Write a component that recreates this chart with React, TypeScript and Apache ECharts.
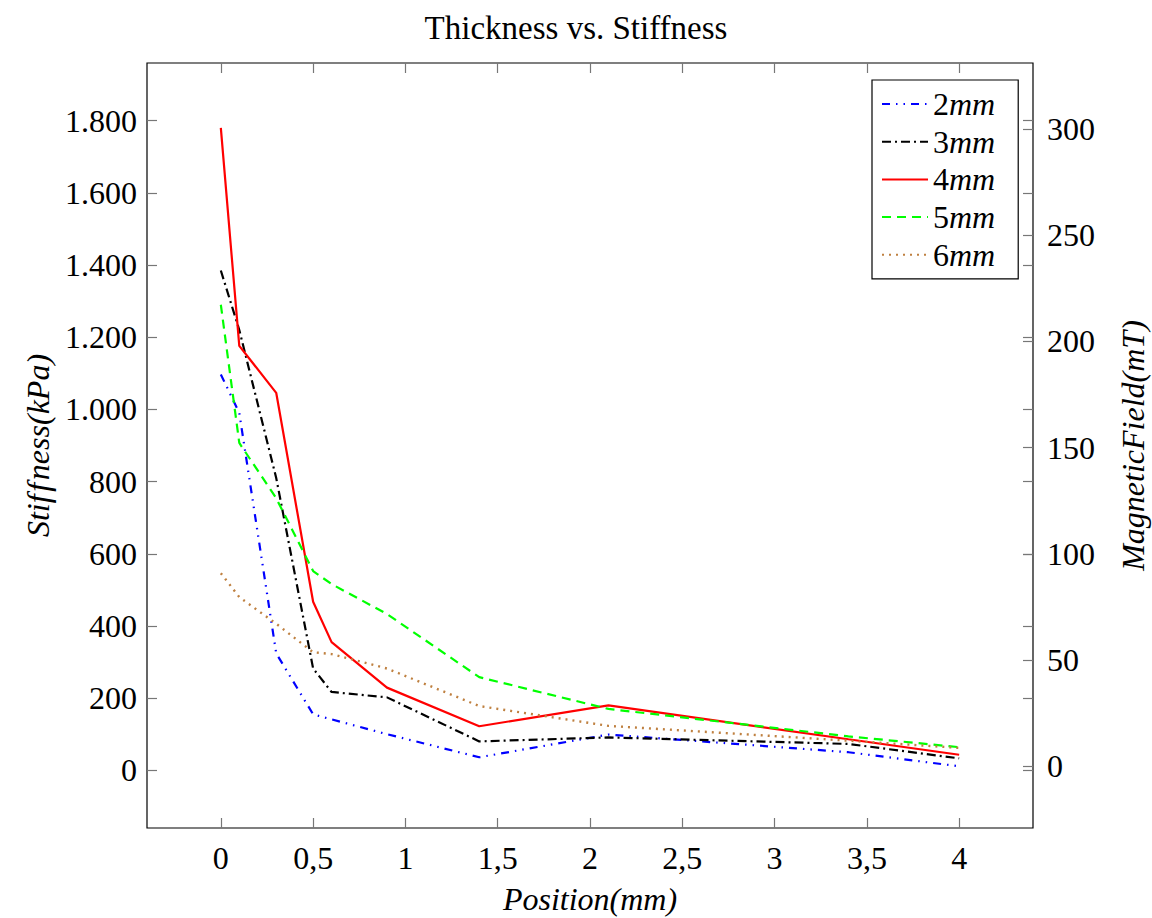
import React, { useEffect, useRef } from "react";
import * as echarts from "echarts";

const positions = [0, 0.1, 0.3, 0.5, 0.6, 0.9, 1.4, 2.1, 3.4, 4];
const stiff2mm = [1097, 990, 324, 155, 141, 100, 36, 99, 50, 11];
const stiff3mm = [1385, 1220, 810, 282, 217, 202, 80, 91, 73, 33];
const stiff4mm = [1780, 1176, 1046, 467, 355, 229, 122, 180, 86, 43];
const stiff5mm = [1290, 907, 754, 552, 516, 433, 258, 170, 94, 64];
const stiff6mm = [546, 480, 406, 327, 322, 282, 178, 123, 82, 62];

const seriesNames = ["2mm", "3mm", "4mm", "5mm", "6mm"];
const xTicks = [0, 0.5, 1, 1.5, 2, 2.5, 3, 3.5, 4];
const leftTicks = [0, 200, 400, 600, 800, 1000, 1200, 1400, 1600, 1800];
const rightTicks = [0, 50, 100, 150, 200, 250, 300];

const FONT = "'Liberation Serif', 'Times New Roman', serif";
const TICK_COLOR = "#777";

export default function App() {
  const ref = useRef<HTMLDivElement>(null);
  useEffect(() => {
    if (!ref.current) return;
    const chart = echarts.init(ref.current, undefined, { renderer: "svg" });
    const all = [stiff2mm, stiff3mm, stiff4mm, stiff5mm, stiff6mm];
    const colors = ["#0000ff", "#000000", "#ff0000", "#00ff00", "#bf8040"];
    const dashes: any[] = [[8, 6, 1.5, 6, 1.5, 6], [9, 4, 2, 4], "solid", [9, 6], [2, 5]];
    const widths = [2.2, 2.2, 2.2, 2.2, 2.4];
    const series = all.map((vals, i) => ({
      name: seriesNames[i],
      type: "line",
      xAxisIndex: 0,
      yAxisIndex: 0,
      symbol: "none",
      data: positions.map((x, j) => [x, vals[j]]),
      lineStyle: { color: colors[i], width: widths[i], type: dashes[i] },
      itemStyle: { color: colors[i] },
    }));
    const tickStyle = { show: true, inside: true, length: 10, lineStyle: { color: TICK_COLOR, width: 1.2 } };
    const option: any = {
      animation: false,
      title: {
        text: "Thickness vs. Stiffness",
        left: "center",
        top: 6,
        textStyle: { fontFamily: FONT, fontSize: 33, fontWeight: "normal", color: "#000" },
      },
      grid: {
        left: 147,
        top: 63,
        right: 119,
        bottom: 90,
        show: true,
        borderColor: "#000",
        borderWidth: 1.2,
        containLabel: false,
        outerBoundsMode: "none",
      },
      legend: {
        orient: "vertical",
        left: 872,
        top: 80,
        padding: [8, 23, 8, 9],
        itemGap: 5.7,
        itemWidth: 46,
        itemHeight: 14,
        borderColor: "#000",
        borderWidth: 1.2,
        backgroundColor: "#fff",
        data: seriesNames,
        itemStyle: { opacity: 0 },
        formatter: (name: string) => `{a|${name.replace("mm", "")}}{b|mm}`,
        textStyle: {
          fontFamily: FONT,
          fontSize: 32,
          lineHeight: 30,
          color: "#000",
          rich: {
            a: { fontFamily: FONT, fontSize: 32, fontStyle: "normal", color: "#000", lineHeight: 30 },
            b: { fontFamily: FONT, fontSize: 32, fontStyle: "italic", color: "#000", lineHeight: 30 },
          },
        },
      },
      xAxis: [
        {
          type: "value",
          position: "bottom",
          min: -0.4,
          max: 4.4,
          axisLine: { show: false, onZero: false },
          axisTick: { ...tickStyle, customValues: xTicks },
          axisLabel: {
            customValues: xTicks,
            margin: 14,
            fontFamily: FONT,
            fontSize: 32,
            color: "#000",
            formatter: (v: number) => String(v).replace(".", ","),
          },
          splitLine: { show: false },
          name: "Position(mm)",
          nameLocation: "middle",
          nameGap: 55,
          nameTextStyle: { fontFamily: FONT, fontSize: 32, fontStyle: "italic", color: "#000" },
        },
        {
          type: "value",
          position: "top",
          min: -0.4,
          max: 4.4,
          axisLine: { show: false, onZero: false },
          axisTick: { ...tickStyle, customValues: xTicks },
          axisLabel: { show: false },
          splitLine: { show: false },
        },
      ],
      yAxis: [
        {
          type: "value",
          position: "left",
          min: -160,
          max: 1960,
          axisLine: { show: false, onZero: false },
          axisTick: { ...tickStyle, customValues: leftTicks },
          axisLabel: {
            customValues: leftTicks,
            margin: 10,
            fontFamily: FONT,
            fontSize: 32,
            color: "#000",
            formatter: (v: number) => (v >= 1000 ? `${Math.floor(v / 1000)}.${String(v % 1000).padStart(3, "0")}` : String(v)),
          },
          splitLine: { show: false },
          name: "Stif\u200Af\u200Aness(kPa)",
          nameLocation: "middle",
          nameGap: 89,
          nameTextStyle: { fontFamily: FONT, fontSize: 32, fontStyle: "italic", color: "#000" },
        },
        {
          type: "value",
          position: "right",
          min: -160,
          max: 1960,
          axisLine: { show: false, onZero: false },
          axisTick: { ...tickStyle, customValues: leftTicks },
          axisLabel: { show: false },
          splitLine: { show: false },
        },
        {
          type: "value",
          position: "right",
          min: -29,
          max: 331,
          axisLine: { show: false, onZero: false },
          axisTick: { ...tickStyle, customValues: rightTicks },
          axisLabel: {
            customValues: rightTicks,
            margin: 14,
            fontFamily: FONT,
            fontSize: 32,
            color: "#000",
          },
          splitLine: { show: false },
          name: "MagneticField(mT)",
          nameLocation: "middle",
          nameGap: 84,
          nameTextStyle: { fontFamily: FONT, fontSize: 32, fontStyle: "italic", color: "#000" },
        },
      ],
      series,
    };
    chart.setOption(option);
    return () => chart.dispose();
  }, []);
  return (
    <div
      ref={ref}
      style={{ position: "fixed", left: 0, top: 0, width: 1152, height: 918, background: "#fff" }}
    />
  );
}
